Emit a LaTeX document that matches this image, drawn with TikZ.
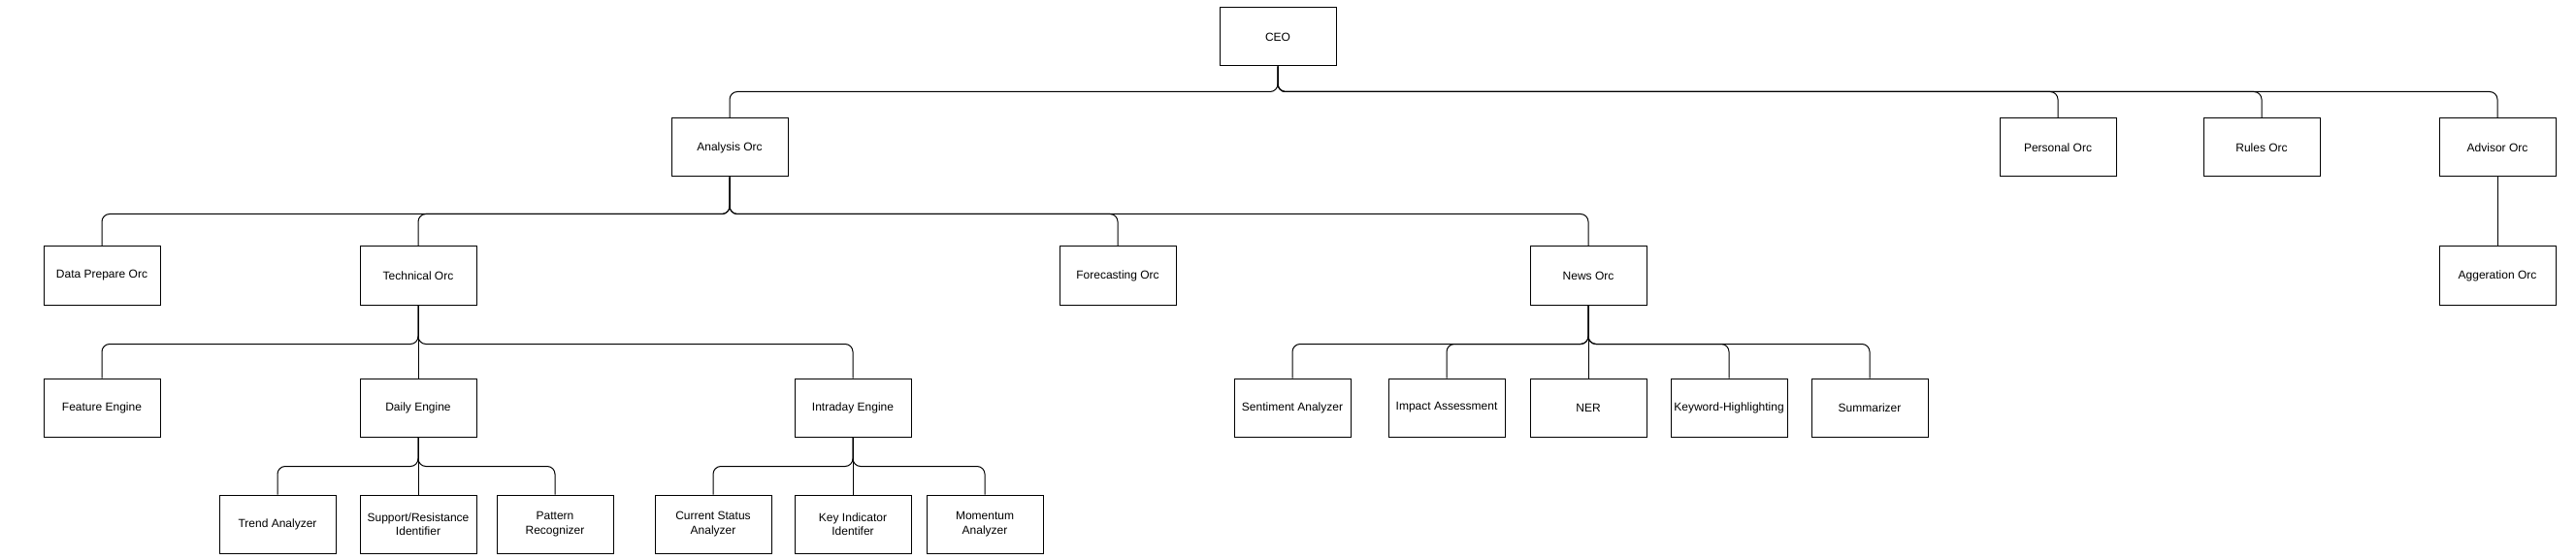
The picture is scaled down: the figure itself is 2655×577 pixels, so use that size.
\documentclass[tikz,border=0pt]{standalone}
\usepackage{fontspec}
\setmainfont{Liberation Sans}
\usepackage{tikz}
\tikzset{>=latex}
\tikzset{orc/.style={draw, line width=1pt, minimum width=120pt, minimum height=60pt,
  inner sep=0pt, align=center, font=\fontsize{12pt}{14.5pt}\selectfont},
  link/.style={line width=1pt, rounded corners=8pt}}
\begin{document}
\begin{tikzpicture}[x=1pt, y=-1pt]
\useasboundingbox (0,0) rectangle (2655,577);
% top
\node[orc] (ceo) at (1317, 38) {CEO};
\node[orc] (ana) at (752, 152) {Analysis Orc};
\node[orc] (pers) at (2121, 152) {Personal Orc};
\node[orc] (rules) at (2331, 152) {Rules Orc};
\node[orc] (adv) at (2574, 152) {Advisor Orc};
% second level
\node[orc] (data) at (105, 284) {Data Prepare Orc};
\node[orc] (tech) at (431, 284) {Technical Orc};
\node[orc] (fore) at (1152, 284) {Forecasting Orc};
\node[orc] (news) at (1637, 284) {News Orc};
\node[orc] (agg) at (2574, 284) {Aggeration Orc};
% engines and news tools
\node[orc] (feat) at (105, 420) {Feature Engine};
\node[orc] (daily) at (431, 420) {Daily Engine};
\node[orc] (intra) at (879, 420) {Intraday Engine};
\node[orc] (sent) at (1332, 420) {Sentiment Analyzer};
\node[orc] (imp) at (1491, 420) {Impact Assessment};
\node[orc] (ner) at (1637, 420) {NER};
\node[orc] (key) at (1782, 420) {Keyword-Highlighting};
\node[orc] (summ) at (1927, 420) {Summarizer};
% analyzers
\node[orc] (trend) at (286, 540) {Trend Analyzer};
\node[orc] (supp) at (431, 540) {Support/Resistance\\Identifier};
\node[orc] (patt) at (572, 540) {Pattern\\Recognizer};
\node[orc] (curr) at (735, 540) {Current Status\\Analyzer};
\node[orc] (kind) at (879, 540) {Key Indicator\\Identifer};
\node[orc] (mom) at (1015, 540) {Momentum\\Analyzer};
% links
\draw[link] (ceo.south) -- ++(0,26) -| (ana.north);
\draw[link] (ceo.south) -- ++(0,26) -| (pers.north);
\draw[link] (ceo.south) -- ++(0,26) -| (rules.north);
\draw[link] (ceo.south) -- ++(0,26) -| (adv.north);
\draw[link] (adv.south) -- (agg.north);
\draw[link] (ana.south) -- ++(0,38) -| (data.north);
\draw[link] (ana.south) -- ++(0,38) -| (tech.north);
\draw[link] (ana.south) -- ++(0,38) -| (fore.north);
\draw[link] (ana.south) -- ++(0,38) -| (news.north);
\draw[link] (tech.south) -- ++(0,40) -| (feat.north);
\draw[link] (tech.south) -- (daily.north);
\draw[link] (tech.south) -- ++(0,40) -| (intra.north);
\draw[link] (news.south) -- ++(0,40) -| (sent.north);
\draw[link] (news.south) -- ++(0,40) -| (imp.north);
\draw[link] (news.south) -- (ner.north);
\draw[link] (news.south) -- ++(0,40) -| (key.north);
\draw[link] (news.south) -- ++(0,40) -| (summ.north);
\draw[link] (daily.south) -- ++(0,30) -| (trend.north);
\draw[link] (daily.south) -- (supp.north);
\draw[link] (daily.south) -- ++(0,30) -| (patt.north);
\draw[link] (intra.south) -- ++(0,30) -| (curr.north);
\draw[link] (intra.south) -- (kind.north);
\draw[link] (intra.south) -- ++(0,30) -| (mom.north);
\end{tikzpicture}
\end{document}
